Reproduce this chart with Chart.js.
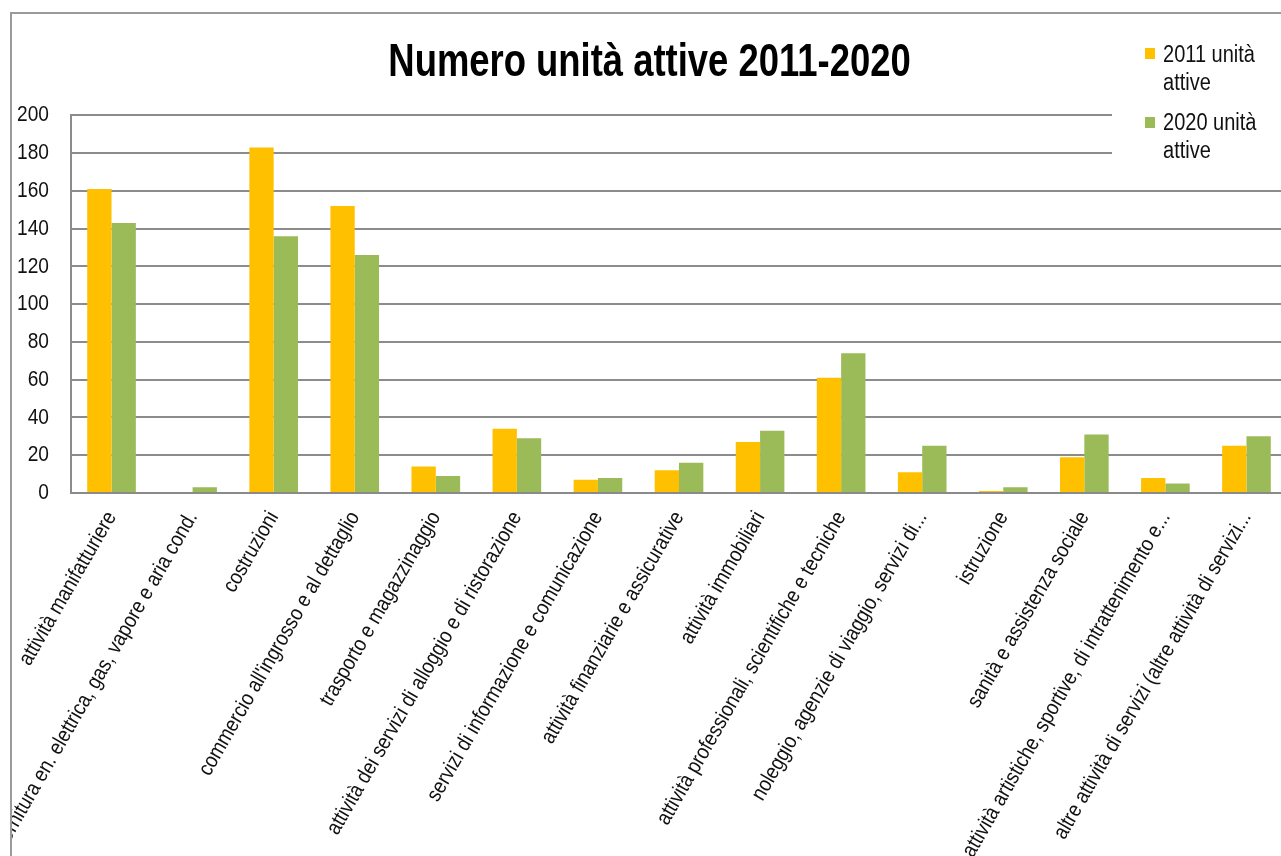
<!DOCTYPE html>
<html><head><meta charset="utf-8">
<script src="https://cdn.jsdelivr.net/npm/chart.js@4.4.0/dist/chart.umd.min.js"></script>
<style>
html,body{margin:0;padding:0;background:#fff;overflow:hidden;width:1281px;height:856px;}
#frame{position:absolute;left:10px;top:12px;width:1300px;height:900px;border-left:2px solid #9a9a9a;border-top:2px solid #9a9a9a;overflow:hidden;}
#c{position:absolute;left:0;top:0;}
</style></head><body>
<div id="frame"><canvas id="c" width="1290" height="842"></canvas></div>
<script>
const categories = [
  "attività manifatturiere",
  "fornitura en. elettrica, gas, vapore e aria cond.",
  "costruzioni",
  "commercio all'ingrosso e al dettaglio",
  "trasporto e magazzinaggio",
  "attività dei servizi di alloggio e di ristorazione",
  "servizi di informazione e comunicazione",
  "attività finanziarie e assicurative",
  "attività immobiliari",
  "attività professionali, scientifiche e tecniche",
  "noleggio, agenzie di viaggio, servizi di...",
  "istruzione",
  "sanità e assistenza sociale",
  "attività artistiche, sportive, di intrattenimento e...",
  "altre attività di servizi (altre attività di servizi..."
];
const seriesNames = ["2011 unità attive", "2020 unità attive"];
const units2011 = [161, 0, 183, 152, 14, 34, 7, 12, 27, 61, 11, 1, 19, 8, 25];
const units2020 = [143, 3, 136, 126, 9, 29, 8, 16, 33, 74, 25, 3, 31, 5, 30];
const seriesColors = ["#FFC000", "#9BBB59"];
const chartTitle = "Numero unità attive 2011-2020";

const FONT = "'Liberation Sans', Arial, sans-serif";

const canvas = document.getElementById('c');
const ctx2d = canvas.getContext('2d');
// condensed lettering (the reference uses a narrow face): squeeze glyphs along the text direction
const origFill = ctx2d.fillText.bind(ctx2d);
function xScaleFor(font) {
  const m = /(\d+(?:\.\d+)?)px/.exec(font);
  const size = m ? parseFloat(m[1]) : 12;
  return size >= 40 ? 0.775 : 0.87;
}
ctx2d.fillText = function (text, x, y) {
  const sx = xScaleFor(this.font);
  this.save();
  this.translate(x, y);
  this.scale(sx, 1);
  origFill(text, 0, 0);
  this.restore();
};

const legendPlugin = {
  id: 'sideLegend',
  afterDraw(chart) {
    const ctx = chart.ctx;
    ctx.save();
    ctx.fillStyle = '#ffffff';
    ctx.fillRect(1100, 6, 190, 152);
    ctx.font = "23px " + FONT;
    ctx.textBaseline = 'alphabetic';
    ctx.textAlign = 'left';
    const items = [
      {sq: [1133, 34], base: 48},
      {sq: [1133, 103], base: 116}
    ];
    chart.data.datasets.forEach((ds, i) => {
      const it = items[i];
      ctx.fillStyle = ds.backgroundColor;
      ctx.fillRect(it.sq[0], it.sq[1], 10, 11);
      ctx.fillStyle = '#111';
      const words = ds.label.split(' ');
      const lines = []; let cur = '';
      words.forEach(w => {
        const test = cur ? cur + ' ' + w : w;
        if (ctx.measureText(test).width * 0.87 > 105 && cur) { lines.push(cur); cur = w; } else cur = test;
      });
      if (cur) lines.push(cur);
      lines.forEach((ln, k) => ctx.fillText(ln, 1151, it.base + k * 28));
    });
    ctx.restore();
  }
};

new Chart(canvas, {
  type: 'bar',
  data: {
    labels: categories,
    datasets: [
      {label: seriesNames[0], data: units2011, backgroundColor: seriesColors[0], categoryPercentage: 0.6, barPercentage: 1.0},
      {label: seriesNames[1], data: units2020, backgroundColor: seriesColors[1], categoryPercentage: 0.6, barPercentage: 1.0}
    ]
  },
  options: {
    responsive: false,
    animation: false,
    devicePixelRatio: 1,
    layout: {padding: {left: 0, right: 15, top: 0, bottom: 0}},
    plugins: {
      legend: {display: false},
      tooltip: {enabled: false},
      title: {
        display: true, text: chartTitle, color: '#000',
        font: {family: FONT, size: 47, weight: 'bold'},
        padding: {top: 21, bottom: 24}
      }
    },
    scales: {
      x: {
        grid: {display: false},
        border: {display: true, color: '#8a8a8a', width: 2},
        ticks: {
          autoSkip: false, minRotation: 60, maxRotation: 60,
          color: '#111', font: {family: FONT, size: 21.5}, padding: 6
        },
        afterFit(s) { s.height = 363; s.paddingLeft = 0; s.paddingRight = 0; }
      },
      y: {
        min: 0, max: 200,
        grid: {color: '#8c8c8c', lineWidth: 2, drawTicks: false},
        border: {display: true, color: '#8c8c8c', width: 2},
        ticks: {stepSize: 20, color: '#111', font: {family: FONT, size: 22}, padding: 22},
        afterFit(s) { s.width = 59; s.paddingTop = 0; s.paddingBottom = 0; }
      }
    }
  },
  plugins: [legendPlugin]
});
</script>
</body></html>
